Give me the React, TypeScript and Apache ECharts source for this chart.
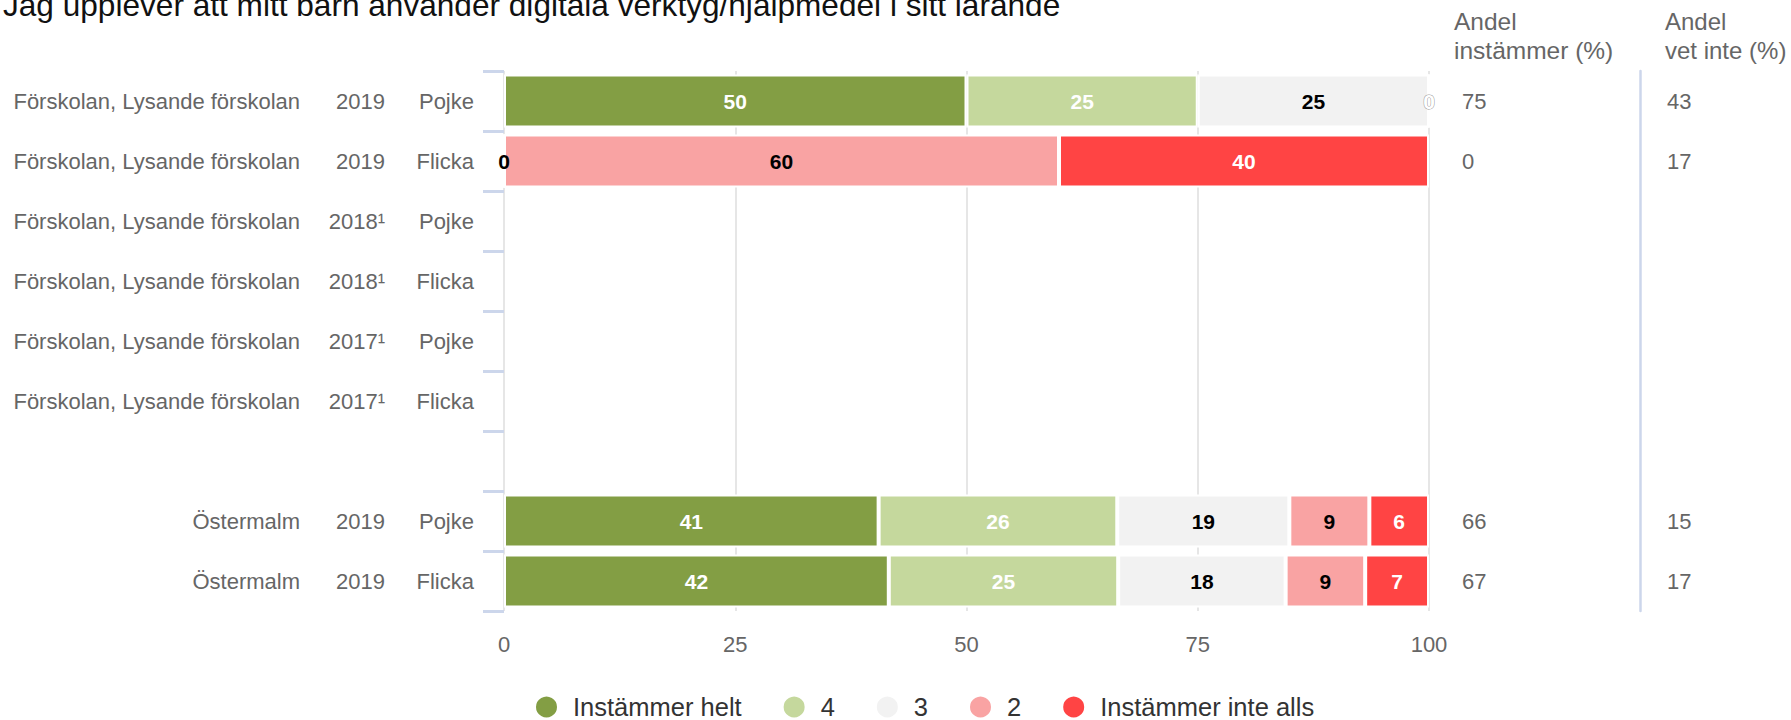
import React, { useEffect, useRef } from "react";
import * as echarts from "echarts";

const FONT = "'Liberation Sans', Arial, Helvetica, sans-serif";

const titleText = "Jag upplever att mitt barn använder digitala verktyg/hjälpmedel i sitt lärande";

const schools = [
  "Förskolan, Lysande förskolan",
  "Förskolan, Lysande förskolan",
  "Förskolan, Lysande förskolan",
  "Förskolan, Lysande förskolan",
  "Förskolan, Lysande förskolan",
  "Förskolan, Lysande förskolan",
  "",
  "Östermalm",
  "Östermalm",
];
const years = ["2019", "2019", "2018¹", "2018¹", "2017¹", "2017¹", "", "2019", "2019"];
const genders = ["Pojke", "Flicka", "Pojke", "Flicka", "Pojke", "Flicka", "", "Pojke", "Flicka"];

const instammerHelt = [50, 0, null, null, null, null, null, 40.5, 41.6];
const fyra = [25, 0, null, null, null, null, null, 25.8, 24.8];
const tre = [25, 0, null, null, null, null, null, 18.6, 18.1];
const tva = [0, 60, null, null, null, null, null, 8.65, 8.6];
const inteAlls = [0, 40, null, null, null, null, null, 6.45, 6.9];

const andelInstammer = ["75", "0", "", "", "", "", "", "66", "67"];
const andelVetInte = ["43", "17", "", "", "", "", "", "15", "17"];

const xTicks = [0, 25, 50, 75, 100];

const seriesDefs = [
  { name: "Instämmer helt", values: instammerHelt, color: "#839e44", labelColor: "#ffffff", zeroLabels: [] as number[] },
  { name: "4", values: fyra, color: "#c5d89d", labelColor: "#ffffff", zeroLabels: [] as number[] },
  { name: "3", values: tre, color: "#f2f2f2", labelColor: "#000000", zeroLabels: [1] },
  { name: "2", values: tva, color: "#f9a3a3", labelColor: "#000000", zeroLabels: [] as number[] },
  { name: "Instämmer inte alls", values: inteAlls, color: "#ff4444", labelColor: "#ffffff", zeroLabels: [0] },
];

export default function App() {
  const ref = useRef<HTMLDivElement>(null);

  useEffect(() => {
    if (!ref.current) return;
    const chart = echarts.init(ref.current, null, { renderer: "svg" });

    const gridLeft = 504;
    const gridRight = 1791 - 1429;

    const series = seriesDefs.map((d) => ({
      name: d.name,
      type: "bar",
      stack: "total",
      barWidth: 53,
      itemStyle: { color: d.color, borderColor: "#ffffff", borderWidth: 2 },
      label: {
        show: true,
        position: "inside",
        fontFamily: FONT,
        fontSize: 21,
        fontWeight: "bold",
        color: d.labelColor,
        formatter: (p: any) => String(Math.round(p.value)),
      },
      emphasis: { disabled: true },
      data: d.values.map((v, i) => {
        if (v === 0) {
          const show = d.zeroLabels.includes(i);
          return {
            value: 0,
            label: show
              ? d.labelColor === "#ffffff"
                ? { show: true, textBorderColor: "#999999", textBorderWidth: 1 }
                : { show: true }
              : { show: false },
          };
        }
        return v;
      }),
    }));

    const baseCat = {
      type: "category",
      inverse: true,
      gridIndex: 0,
      axisLine: { show: false },
      axisTick: { show: false },
      splitLine: { show: false },
    };

    const labelStyle = { fontFamily: FONT, fontSize: 22, color: "#666666" };

    chart.setOption({
      animation: false,
      textStyle: { fontFamily: FONT },
      title: {
        text: titleText,
        left: -2,
        top: -16,
        textStyle: { fontFamily: FONT, fontSize: 31.6, fontWeight: "normal", color: "#111111" },
      },
      legend: {
        left: 529,
        top: 689,
        icon: "circle",
        itemWidth: 23,
        itemHeight: 23,
        itemGap: 40,
        selectedMode: false,
        textStyle: { fontFamily: FONT, fontSize: 25.5, color: "#333333", padding: [0, 0, 0, 10] },
        data: seriesDefs.map((d) => d.name),
      },
      grid: { left: gridLeft, right: gridRight, top: 71, height: 540, containLabel: false },
      xAxis: {
        type: "value",
        min: xTicks[0],
        max: xTicks[xTicks.length - 1],
        interval: 25,
        axisLine: { show: false },
        axisTick: { show: false },
        axisLabel: { ...labelStyle, margin: 22 },
        splitLine: { show: true, lineStyle: { color: "#e6e6e6", width: 2 } },
      },
      yAxis: [
        {
          ...baseCat,
          position: "left",
          offset: 0,
          data: genders,
          axisTick: { show: true, length: 21, lineStyle: { color: "#ccd6eb", width: 3 } },
          axisLabel: { ...labelStyle, margin: 30 },
        },
        {
          ...baseCat,
          position: "left",
          offset: 0,
          data: years,
          axisLabel: { ...labelStyle, margin: 119 },
        },
        {
          ...baseCat,
          position: "left",
          offset: 0,
          data: schools,
          axisLabel: { ...labelStyle, margin: 204 },
        },
        {
          ...baseCat,
          position: "right",
          offset: 0,
          data: andelInstammer,
          axisLabel: { ...labelStyle, margin: 33, align: "left" },
        },
        {
          ...baseCat,
          position: "right",
          offset: 211,
          data: andelVetInte,
          axisLine: { show: true, lineStyle: { color: "#ccd6eb", width: 2.5 } },
          axisLabel: { ...labelStyle, margin: 27, align: "left" },
        },
      ],
      graphic: [
        {
          type: "text",
          left: 1454,
          top: 7,
          style: { text: "Andel\ninstämmer (%)", fontFamily: FONT, fontSize: 24.5, lineHeight: 29, fill: "#666666" },
        },
        {
          type: "text",
          left: 1665,
          top: 7,
          style: { text: "Andel\nvet inte (%)", fontFamily: FONT, fontSize: 24, lineHeight: 29, fill: "#666666" },
        },
      ],
      series,
    });

    return () => chart.dispose();
  }, []);

  return (
    <div
      ref={ref}
      style={{ position: "fixed", left: 0, top: 0, width: 1791, height: 720, background: "#ffffff" }}
    />
  );
}
